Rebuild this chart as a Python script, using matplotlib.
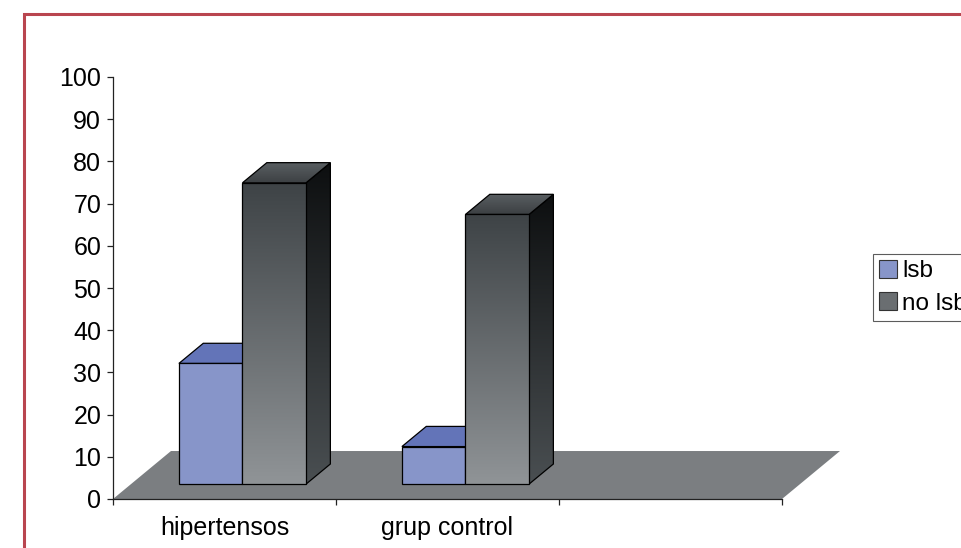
import numpy as np
import matplotlib
matplotlib.use("Agg")
import matplotlib.pyplot as plt
from matplotlib.patches import Polygon, Patch
from matplotlib.lines import Line2D

plt.rcParams['font.family'] = ['Liberation Sans', 'DejaVu Sans']

# data
categories = ["hipertensos", "grup control", ""]
series_names = ["lsb", "no lsb"]
lsb = [28.6, 8.9, np.nan]
no_lsb = [71.4, 63.9, np.nan]
y_ticks = [0, 10, 20, 30, 40, 50, 60, 70, 80, 90, 100]

W, H = 962, 548
fig = plt.figure(figsize=(W / 100, H / 100), dpi=100)
ax = fig.add_axes([113 / W, 49 / H, 669 / W, 422 / H])
ax.set_xlim(0, len(categories))
ax.set_ylim(0, 100)

# oblique depth of the floor (data units)
DX, DY = 0.26, 11.37
F0, F1 = 0.31, 0.73          # front / back depth of the columns
BW = 0.285                   # column width

z = [2]


def nextz():
    z[0] += 1
    return z[0]


def flat_face(pts, color):
    ax.add_patch(Polygon(pts, closed=True, facecolor=color, edgecolor="black",
                         lw=0.9, zorder=nextz(), joinstyle="miter"))


def grad_face(pts, top_col, bot_col):
    pts = np.asarray(pts)
    zz = nextz()
    poly = Polygon(pts, closed=True, facecolor="none", edgecolor="black",
                   lw=0.9, zorder=zz + 0.5, joinstyle="miter")
    ax.add_patch(poly)
    c0 = np.array(matplotlib.colors.to_rgb(top_col))
    c1 = np.array(matplotlib.colors.to_rgb(bot_col))
    t = np.linspace(0, 1, 256)[:, None]
    img = (c0 * (1 - t) + c1 * t)[:, None, :]
    im = ax.imshow(img, extent=[pts[:, 0].min(), pts[:, 0].max(),
                                pts[:, 1].min(), pts[:, 1].max()],
                   origin="upper", aspect="auto", zorder=zz,
                   interpolation="bilinear")
    im.set_clip_path(poly)


# floor
n = len(categories)
ax.add_patch(Polygon([(0, 0), (n, 0), (n + DX, DY), (DX, DY)], closed=True,
                     facecolor="#7b7e81", edgecolor="none", zorder=1,
                     clip_on=False))


def column(x0, val, style):
    bx = x0 + F0 * DX
    by = F0 * DY
    dx = (F1 - F0) * DX
    dy = (F1 - F0) * DY
    front = [(bx, by), (bx + BW, by), (bx + BW, by + val), (bx, by + val)]
    top = [(bx, by + val), (bx + BW, by + val),
           (bx + BW + dx, by + val + dy), (bx + dx, by + val + dy)]
    side = [(bx + BW, by), (bx + BW + dx, by + dy),
            (bx + BW + dx, by + val + dy), (bx + BW, by + val)]
    if style == "lsb":
        flat_face(side, "#5a68a8")
        flat_face(top, "#6374b8")
        flat_face(front, "#8795c9")
    else:
        grad_face(side, "#0d0f10", "#4a4f52")
        grad_face(top, "#5b6063", "#3c4043")
        grad_face(front, "#3e4346", "#909497")


for i, cat in enumerate(categories):
    c = i + 0.5
    if not np.isnan(lsb[i]):
        column(c - BW, lsb[i], "lsb")
    if not np.isnan(no_lsb[i]):
        column(c, no_lsb[i], "no lsb")

ax.set_xlim(0, n)
ax.set_ylim(0, 100)

# axes styling
for s in ("top", "right"):
    ax.spines[s].set_visible(False)
for s in ("left", "bottom"):
    ax.spines[s].set_linewidth(0.9)
    ax.spines[s].set_color("#222222")
    ax.spines[s].set_zorder(50)

ax.set_yticks(y_ticks)
ax.set_yticklabels([str(v) for v in y_ticks])
ax.tick_params(axis="y", length=4.5, width=0.9, pad=4, labelsize=18,
               colors="#222222", labelcolor="black")
ax.set_xticks(np.arange(n + 1))
ax.set_xticklabels([])
ax.set_xticks(np.arange(n) + 0.5, minor=True)
ax.set_xticklabels(categories, minor=True)
ax.tick_params(axis="x", which="major", length=4.5, width=0.9, colors="#222222")
ax.tick_params(axis="x", which="minor", length=0, pad=12, labelsize=18,
               labelcolor="black")

# legend
handles = [Patch(facecolor="#8795c9", edgecolor="#333333", lw=0.8),
           Patch(facecolor="#6a6e71", edgecolor="#333333", lw=0.8)]
leg = ax.legend(handles, series_names, loc="upper left",
                bbox_to_anchor=(873 / W, 1 - 254 / H),
                bbox_transform=fig.transFigure, borderaxespad=0,
                fontsize=17.5, frameon=True, fancybox=False,
                handlelength=0.75, handleheight=0.75, handletextpad=0.2,
                labelspacing=0.4, borderpad=0.25)
leg.get_frame().set_edgecolor("#333333")
leg.get_frame().set_linewidth(0.8)
leg.set_zorder(60)

# page frame
fy = 1 - 14 / H
fx = 24 / W
fig.add_artist(Line2D([fx, fx, 1.0], [0.0, fy, fy], transform=fig.transFigure,
                      color="#b9454f", lw=2.2, solid_joinstyle="miter"))

fig.savefig("out.png", dpi=100)
